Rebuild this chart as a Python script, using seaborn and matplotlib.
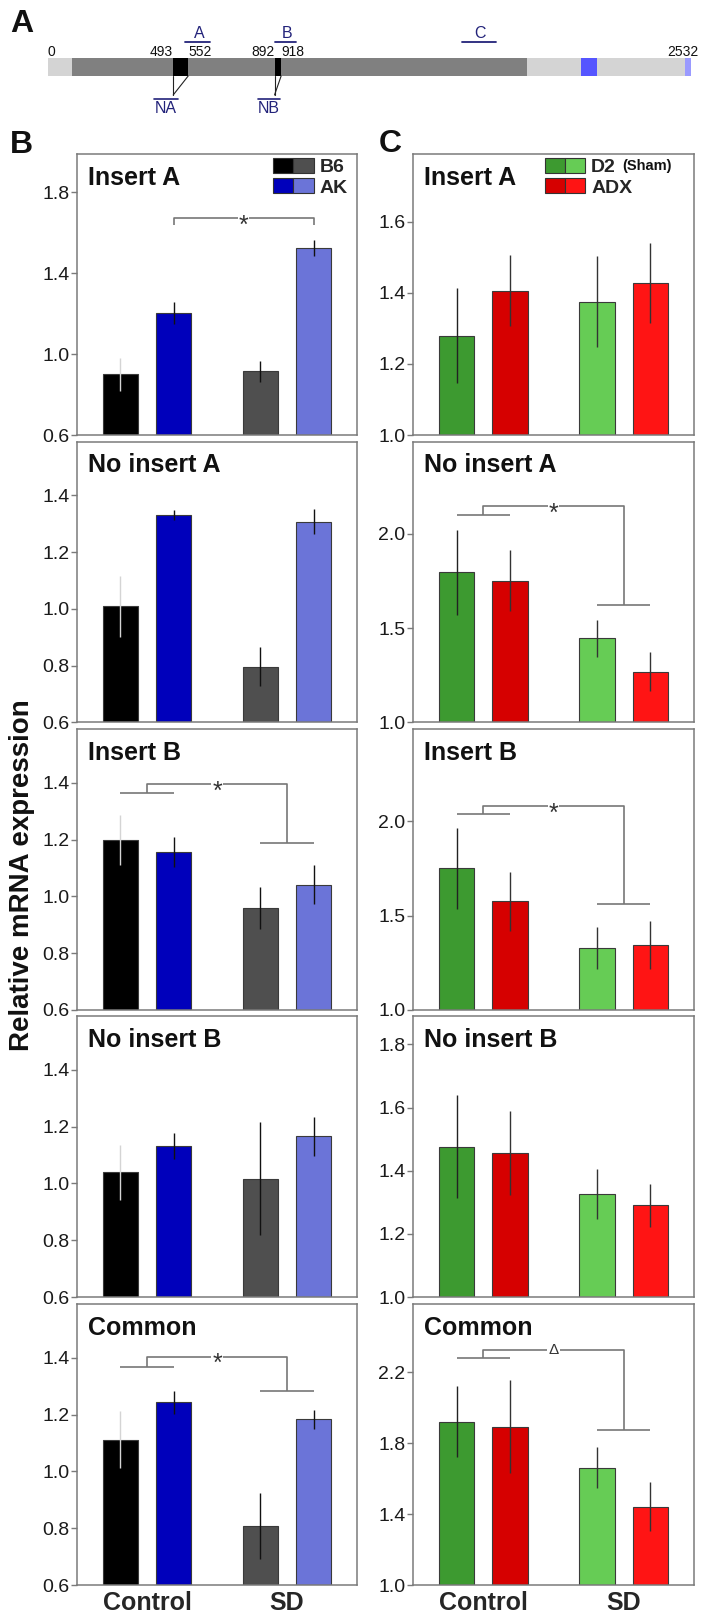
import numpy as np
import pandas as pd
import matplotlib
matplotlib.use('Agg')
import matplotlib.pyplot as plt
import seaborn as sns
from matplotlib.patches import Rectangle, Patch
from matplotlib.legend_handler import HandlerTuple
from matplotlib import font_manager

sns.set_theme(style='white')
plt.rcParams['font.family'] = ['Liberation Sans', 'DejaVu Sans']
_names = {f.name for f in font_manager.fontManager.ttflist}
NARROW = 'Liberation Sans Narrow' if 'Liberation Sans Narrow' in _names else 'Liberation Sans'

# ---------------- data ----------------
conditions = ['Control', 'SD']
panel_titles = ['Insert A', 'No insert A', 'Insert B', 'No insert B', 'Common']

# Column B : B6 vs AK
b_strains = ['B6', 'AK']
b6_ctrl = [0.900, 1.009, 1.198, 1.040, 1.112]
ak_ctrl = [1.204, 1.331, 1.156, 1.132, 1.243]
b6_sd = [0.915, 0.797, 0.960, 1.017, 0.808]
ak_sd = [1.523, 1.308, 1.042, 1.166, 1.184]
b6_ctrl_se = [0.083, 0.107, 0.088, 0.097, 0.100]
ak_ctrl_se = [0.053, 0.017, 0.052, 0.047, 0.040]
b6_sd_se = [0.052, 0.069, 0.073, 0.200, 0.117]
ak_sd_se = [0.040, 0.045, 0.070, 0.068, 0.034]

# Column C : D2 (Sham) vs ADX
c_strains = ['D2', 'ADX']
d2_ctrl = [1.279, 1.796, 1.751, 1.476, 1.920]
adx_ctrl = [1.406, 1.752, 1.576, 1.457, 1.894]
d2_sd = [1.375, 1.447, 1.327, 1.326, 1.661]
adx_sd = [1.428, 1.270, 1.343, 1.291, 1.441]
d2_ctrl_se = [0.133, 0.227, 0.213, 0.163, 0.200]
adx_ctrl_se = [0.099, 0.162, 0.155, 0.133, 0.263]
d2_sd_se = [0.127, 0.098, 0.112, 0.078, 0.115]
adx_sd_se = [0.113, 0.103, 0.128, 0.068, 0.138]

# axis ranges / ticks
b_ylims = [(0.6, 1.99), (0.6, 1.59), (0.6, 1.59), (0.6, 1.59), (0.6, 1.59)]
b_yticks = [[0.6, 1.0, 1.4, 1.8], [0.6, 0.8, 1.0, 1.2, 1.4], [0.6, 0.8, 1.0, 1.2, 1.4],
            [0.6, 0.8, 1.0, 1.2, 1.4], [0.6, 0.8, 1.0, 1.2, 1.4]]
c_ylims = [(1.0, 1.79), (1.0, 2.49), (1.0, 2.49), (1.0, 1.89), (1.0, 2.585)]
c_yticks = [[1.0, 1.2, 1.4, 1.6], [1.0, 1.5, 2.0], [1.0, 1.5, 2.0],
            [1.0, 1.2, 1.4, 1.6, 1.8], [1.0, 1.4, 1.8, 2.2]]

# significance annotations: (panel, kind, y_left, y_top, y_right, symbol)
b_sig = [(0, 'pair', 1.637, 1.673, 1.637, '*'),
         (2, 'group', 1.364, 1.396, 1.189, '*'),
         (4, 'group', 1.367, 1.405, 1.285, '*')]
c_sig = [(1, 'group', 2.102, 2.146, 1.625, '*'),
         (2, 'group', 2.041, 2.082, 1.562, '*'),
         (4, 'group', 2.279, 2.327, 1.873, '\u0394')]

# panel A gene structure (nt positions)
gene_len = 2532
utr_region = (0, 2532)
cds_region = (96, 1888)
exon_a = (493, 552)
exon_b = (892, 918)
blue_block = (2100, 2160)
lightblue_block = (2508, 2532)
pos_labels = [('0', 0, 'left'), ('493', 493, 'right'), ('552', 552, 'left'),
              ('892', 892, 'right'), ('918', 918, 'left'), ('2532', 2560, 'right')]
primers_top = [('A', 541, 639), ('B', 893, 976), ('C', 1630, 1763)]
primers_bottom = [('NA', 417, 511, exon_a), ('NB', 826, 914, exon_b)]

# colours
b_pal_ctrl = ['#000000', '#0000bb']
b_pal_sd = ['#4f4f4f', '#6b74d8']
c_pal_ctrl = ['#3d9a30', '#d60000']
c_pal_sd = ['#66cc55', '#ff1414']
b_err_cols = ['#d4d4d4', '#111111', '#111111', '#111111']
c_err_cols = ['#222222', '#333333', '#333333', '#333333']
NAVY = '#23237a'
SPINE = '#7a7a7a'

# ---------------- figure ----------------
W, H = 712, 1616
fig = plt.figure(figsize=(W / 100, H / 100), dpi=100)


def rect(x0, y0, x1, y1):
    return [x0 / W, 1 - y1 / H, (x1 - x0) / W, (y1 - y0) / H]


row_tops = [154, 441.5, 729, 1016, 1304]
row_h = 281
col_x = [(77, 357), (413, 694)]


def draw_column(col, strains, ctrl1, ctrl2, sd1, sd2, se_c1, se_c2, se_s1, se_s2,
                pal_ctrl, pal_sd, err_cols, ylims, yticks, sigs):
    axes = []
    for i in range(5):
        x0, x1 = col_x[col]
        ax = fig.add_axes(rect(x0, row_tops[i], x1, row_tops[i] + row_h))
        df = pd.DataFrame({'cond': ['Control', 'Control', 'SD', 'SD'],
                           'strain': [strains[0], strains[1], strains[0], strains[1]],
                           'val': [ctrl1[i], ctrl2[i], sd1[i], sd2[i]]})
        ses = [se_c1[i], se_c2[i], se_s1[i], se_s2[i]]
        for cond, pal in zip(conditions, [pal_ctrl, pal_sd]):
            sns.barplot(data=df[df.cond == cond], x='cond', y='val', hue='strain',
                        order=conditions, hue_order=strains, palette=pal, saturation=1,
                        width=0.76, gap=0.33, errorbar=None, edgecolor='#3a3a3a',
                        linewidth=0.8, legend=False, ax=ax, zorder=2)
        bars = sorted([p for p in ax.patches if isinstance(p, Rectangle)],
                      key=lambda p: p.get_x())
        centers = [b.get_x() + b.get_width() / 2 for b in bars]
        for cx, v, s, ec in zip(centers, df['val'], ses, err_cols):
            ax.errorbar([cx], [v], yerr=[s], fmt='none', ecolor=ec, elinewidth=1.0,
                        capsize=0, zorder=4)
        ax.set_xlim(-0.5, 1.5)
        ax.set_ylim(*ylims[i])
        ax.set_yticks(yticks[i])
        ax.set_yticklabels([f'{t:.1f}' for t in yticks[i]])
        ax.set_xlabel('')
        ax.set_ylabel('')
        ax.tick_params(axis='y', left=True, direction='out', length=4, width=1,
                       color=SPINE, pad=1.5, labelsize=14, labelcolor='#1a1a1a')
        if i == 4:
            ax.tick_params(axis='x', bottom=False, length=0, pad=4, labelsize=18)
            for t in ax.get_xticklabels():
                t.set_fontweight('bold')
        else:
            ax.tick_params(axis='x', bottom=False, labelbottom=False)
        for sp in ax.spines.values():
            sp.set_color(SPINE)
            sp.set_linewidth(1.1)
        ax.text(0.038, 1 - 31 / row_h, panel_titles[i], transform=ax.transAxes,
                fontsize=18, fontweight='bold', va='baseline', ha='left', color='#111111')
        # significance
        for (pi, kind, yl, yt, yr, sym) in sigs:
            if pi != i:
                continue
            lk = dict(color='#777777', lw=1.2, zorder=3, solid_capstyle='butt')
            if kind == 'pair':
                xa, xb = centers[1], centers[3]
                ax.plot([xa, xa, xb, xb], [yl, yt, yt, yr], **lk)
                xm = (xa + xb) / 2
            else:
                gl = (centers[0] + centers[1]) / 2
                gr = (centers[2] + centers[3]) / 2
                ax.plot([centers[0], centers[1]], [yl, yl], **lk)
                ax.plot([gl, gl, gr, gr], [yl, yt, yt, yr], **lk)
                ax.plot([centers[2], centers[3]], [yr, yr], **lk)
                xm = (gl + gr) / 2
            if sym == '*':
                ax.annotate(sym, (xm, yt), xytext=(0, -5.5), textcoords='offset points',
                            ha='center', va='center', fontsize=18, color='#333333', zorder=5,
                            bbox=dict(facecolor='white', edgecolor='none', pad=0.5))
            else:
                ax.annotate(sym, (xm, yt), xytext=(0, 0), textcoords='offset points',
                            ha='center', va='center', fontsize=11, color='#333333', zorder=5,
                            bbox=dict(facecolor='white', edgecolor='none', pad=1.0))
        axes.append(ax)
    return axes


b_axes = draw_column(0, b_strains, b6_ctrl, ak_ctrl, b6_sd, ak_sd,
                     b6_ctrl_se, ak_ctrl_se, b6_sd_se, ak_sd_se,
                     b_pal_ctrl, b_pal_sd, b_err_cols, b_ylims, b_yticks, b_sig)
c_axes = draw_column(1, c_strains, d2_ctrl, adx_ctrl, d2_sd, adx_sd,
                     d2_ctrl_se, adx_ctrl_se, d2_sd_se, adx_sd_se,
                     c_pal_ctrl, c_pal_sd, c_err_cols, c_ylims, c_yticks, c_sig)


def two_tone_legend(ax, labels, pal_ctrl, pal_sd, anchor):
    handles = [(Patch(facecolor=pal_ctrl[k], edgecolor='#333333', lw=0.8),
                Patch(facecolor=pal_sd[k], edgecolor='#333333', lw=0.8))
               for k in range(len(labels))]
    leg = ax.legend(handles, labels, handler_map={tuple: HandlerTuple(ndivide=None, pad=0)},
                    loc='upper left', bbox_to_anchor=anchor, frameon=False,
                    prop=dict(size=14, weight='bold'), handlelength=2.1,
                    handleheight=0.8, handletextpad=0.3, labelspacing=0.1,
                    borderaxespad=0, borderpad=0)
    return leg


leg_b = two_tone_legend(b_axes[0], b_strains, b_pal_ctrl, b_pal_sd, (0.70, 0.985))
leg_c = two_tone_legend(c_axes[0], ['D2', 'ADX'], c_pal_ctrl, c_pal_sd, (0.468, 0.985))

# "(Sham)" after D2
fig.canvas.draw()
r = fig.canvas.get_renderer()
t0 = leg_c.get_texts()[0]
bb = t0.get_window_extent(r)
fig.text((bb.x1 + 6) / W, (bb.y0 + 3) / H, '(Sham)', fontsize=10.5, fontweight='bold',
         ha='left', va='bottom', color='#111111')

# y label and panel letters
fig.text(22 / W, 1 - 875 / H, 'Relative mRNA expression', rotation=90, fontsize=20,
         fontweight='bold', ha='center', va='center', color='#111111')
for lab, x, yb in [('A', 10, 32), ('B', 10, 153), ('C', 379, 152)]:
    fig.text(x / W, 1 - yb / H, lab, fontsize=23, fontweight='bold', ha='left',
             va='baseline', color='#111111')

# ---------------- panel A : gene diagram ----------------
axA = fig.add_axes(rect(48, 0, 691, 130))
axA.set_xlim(0, gene_len)
axA.set_ylim(130, 0)
axA.axis('off')
bar_y, bar_h = 67, 18
for (s, e), colr in [(utr_region, '#d4d4d4'), (cds_region, '#808080'),
                     (exon_a, '#000000'), (exon_b, '#000000'),
                     (blue_block, '#5555ff'), (lightblue_block, '#9a9aff')]:
    axA.barh(bar_y, e - s, left=s, height=bar_h, color=colr, edgecolor='none',
             linewidth=0)
for txt, p, ha in pos_labels:
    axA.text(p, 56.5, txt, ha=ha, va='baseline', fontsize=10, family=NARROW,
             color='#111111')
for txt, s, e in primers_top:
    axA.plot([s, e], [42, 42], color=NAVY, lw=1.3)
    axA.text((s + e) / 2 + 6, 38.5, txt, ha='center', va='baseline', fontsize=11.5,
             color=NAVY)
for txt, s, e, (es, ee) in primers_bottom:
    axA.plot([es, es], [76, 95], color='#222222', lw=0.8)
    axA.plot([ee, es], [76, 95], color='#222222', lw=0.8)
    axA.plot([s, e], [98.5, 98.5], color=NAVY, lw=1.2)
    axA.text((s + e) / 2, 113, txt, ha='center', va='baseline', fontsize=11.5,
             color=NAVY)

fig.savefig('out.png', dpi=100)
